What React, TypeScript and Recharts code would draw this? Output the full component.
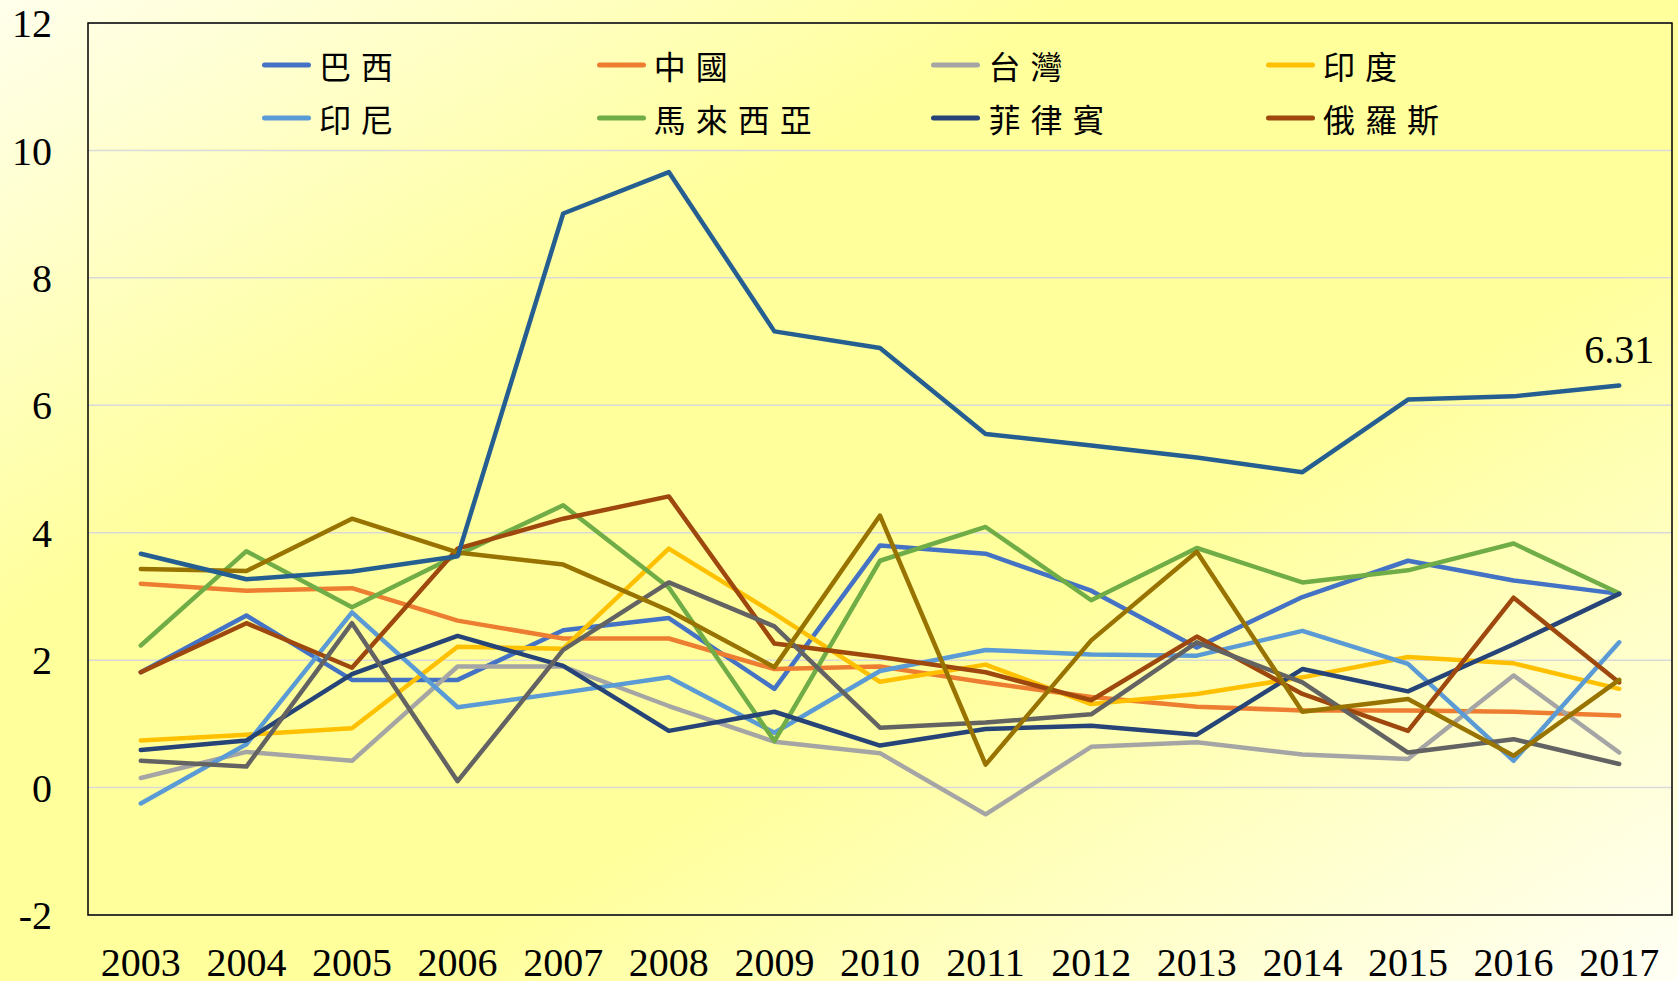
import { CartesianGrid, Legend, Line, LineChart, ReferenceArea, XAxis, YAxis } from 'recharts'

const years = [2003, 2004, 2005, 2006, 2007, 2008, 2009, 2010, 2011, 2012, 2013, 2014, 2015, 2016, 2017]

const brazil = [1.81, 2.7, 1.69, 1.69, 2.47, 2.66, 1.55, 3.8, 3.67, 3.09, 2.2, 2.99, 3.56, 3.25, 3.04]
const china = [3.2, 3.09, 3.13, 2.62, 2.34, 2.34, 1.86, 1.9, 1.65, 1.42, 1.27, 1.21, 1.21, 1.19, 1.13]
const taiwan = [0.15, 0.56, 0.42, 1.9, 1.9, 1.28, 0.72, 0.54, -0.42, 0.64, 0.71, 0.52, 0.45, 1.76, 0.55]
const india = [0.74, 0.83, 0.93, 2.21, 2.18, 3.75, 2.73, 1.66, 1.93, 1.31, 1.47, 1.73, 2.05, 1.95, 1.55]
const indonesia = [-0.25, 0.68, 2.75, 1.26, 1.49, 1.73, 0.86, 1.83, 2.16, 2.09, 2.07, 2.46, 1.94, 0.42, 2.28]
const malaysia = [2.23, 3.71, 2.83, 3.65, 4.43, 3.14, 0.73, 3.56, 4.09, 2.94, 3.76, 3.22, 3.41, 3.83, 3.05]
const philippines = [0.59, 0.74, 1.78, 2.38, 1.91, 0.89, 1.19, 0.66, 0.92, 0.97, 0.83, 1.86, 1.51, 2.25, 3.04]
const russia = [1.81, 2.58, 1.88, 3.75, 4.22, 4.57, 2.26, 2.05, 1.81, 1.37, 2.37, 1.47, 0.89, 2.98, 1.65]
const series9 = [0.42, 0.33, 2.58, 0.1, 2.16, 3.22, 2.53, 0.94, 1.02, 1.15, 2.28, 1.65, 0.55, 0.76, 0.37]
const series10 = [3.43, 3.4, 4.22, 3.69, 3.5, 2.78, 1.89, 4.27, 0.36, 2.31, 3.7, 1.19, 1.39, 0.5, 1.69]
const series11 = [3.67, 3.27, 3.39, 3.63, 9.01, 9.66, 7.16, 6.9, 5.55, 5.37, 5.18, 4.95, 6.09, 6.14, 6.31]

const yTicks = [-2, 0, 2, 4, 6, 8, 10, 12]

const series = [
  { key: 'brazil', name: '巴西', color: '#4472C4', values: brazil, legend: true },
  { key: 'china', name: '中國', color: '#ED7D31', values: china, legend: true },
  { key: 'taiwan', name: '台灣', color: '#A5A5A5', values: taiwan, legend: true },
  { key: 'india', name: '印度', color: '#FFC000', values: india, legend: true },
  { key: 'indonesia', name: '印尼', color: '#5B9BD5', values: indonesia, legend: true },
  { key: 'malaysia', name: '馬來西亞', color: '#70AD47', values: malaysia, legend: true },
  { key: 'philippines', name: '菲律賓', color: '#264478', values: philippines, legend: true },
  { key: 'russia', name: '俄羅斯', color: '#9E480E', values: russia, legend: true },
  { key: 's9', name: '數列9', color: '#636363', values: series9, legend: false },
  { key: 's10', name: '數列10', color: '#997300', values: series10, legend: false },
  { key: 's11', name: '數列11', color: '#255E91', values: series11, legend: false },
]

const data = years.map((year, i) => {
  const row: Record<string, number> = { year }
  series.forEach((s) => {
    row[s.key] = s.values[i]
  })
  return row
})

const serif = '"Liberation Serif", "Times New Roman", serif'
const tickFont = { fontSize: 40, fontFamily: serif, fill: '#000' }

function renderLegend() {
  const items = series.filter((s) => s.legend)
  return (
    <div style={{ position: 'relative', width: 1678, height: 150 }}>
      {items.map((s, i) => {
        const col = i % 4
        const row = Math.floor(i / 4)
        return (
          <div
            key={s.key}
            style={{
              position: 'absolute',
              left: 262 + col * 334.7,
              top: 65 + row * 53 - 20,
              height: 40,
              display: 'flex',
              alignItems: 'center',
              whiteSpace: 'nowrap',
            }}
          >
            <svg width={49} height={10} style={{ display: 'block' }}>
              <line x1={2.5} y1={5} x2={46.5} y2={5} stroke={s.color} strokeWidth={5} strokeLinecap="round" />
            </svg>
            <span
              style={{
                marginLeft: 8,
                fontSize: 32,
                letterSpacing: 10,
                fontFamily: '"Noto Sans CJK TC", "Noto Sans CJK SC", sans-serif',
                color: '#000',
                lineHeight: '40px',
              }}
            >
              {s.name}
            </span>
          </div>
        )
      })}
    </div>
  )
}

function lastLabel(props: any) {
  const { x, y, index, value } = props
  if (index !== years.length - 1) return null
  return (
    <text x={x} y={y - 23} textAnchor="middle" fill="#000" style={{ fontFamily: serif, fontSize: 40 }}>
      {value}
    </text>
  )
}

export default function App() {
  return (
    <div
      style={{
        position: 'absolute',
        top: 0,
        left: 0,
        width: 1678,
        height: 981,
        background: 'linear-gradient(to bottom right, #FFFFEC 0%, #FFFF9C 32%, #FFFF9C 62%, #FFFFF6 100%)',
      }}
    >
      <LineChart width={1678} height={981} data={data} margin={{ top: 23, right: 6, left: 0, bottom: 0 }}>
        <CartesianGrid vertical={false} stroke="#D9D9D9" strokeWidth={1.5} />
        <XAxis
          dataKey="year"
          type="number"
          domain={[2002.5, 2017.5]}
          ticks={years}
          height={66}
          tickSize={0}
          tickMargin={33}
          axisLine={false}
          tick={tickFont}
          interval={0}
        />
        <YAxis
          type="number"
          domain={[-2, 12]}
          ticks={yTicks}
          width={88}
          tickSize={0}
          tickMargin={36}
          axisLine={false}
          tick={tickFont}
          interval={0}
        />
        <ReferenceArea x1={2002.5} x2={2017.5} y1={-2} y2={12} fill="none" stroke="#000" strokeWidth={1.5} />
        <Legend
          layout="vertical"
          align="center"
          verticalAlign="middle"
          content={renderLegend}
          wrapperStyle={{ position: 'absolute', top: 0, left: 0, width: 1678, height: 150 }}
        />
        {series.map((s) => (
          <Line
            key={s.key}
            type="linear"
            dataKey={s.key}
            name={s.name}
            stroke={s.color}
            strokeWidth={4.5}
            strokeLinejoin="round"
            strokeLinecap="round"
            dot={false}
            activeDot={false}
            isAnimationActive={false}
            label={s.key === 's11' ? lastLabel : undefined}
          />
        ))}
      </LineChart>
    </div>
  )
}
